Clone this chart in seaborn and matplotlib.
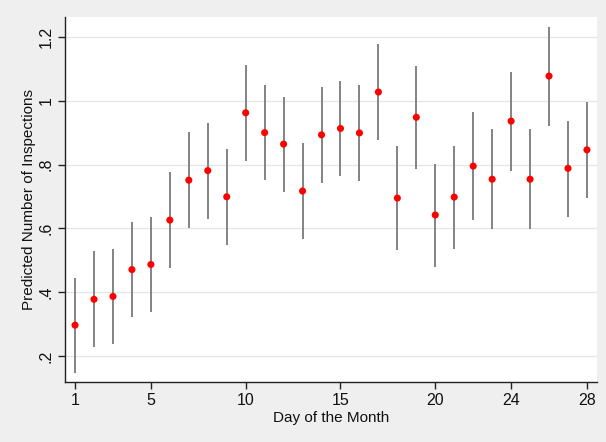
import matplotlib
matplotlib.use("Agg")
import matplotlib.pyplot as plt
import seaborn as sns
import pandas as pd

days = list(range(1, 29))
predicted = [0.297, 0.378, 0.387, 0.471, 0.487, 0.626, 0.751, 0.781, 0.699, 0.962,
             0.900, 0.864, 0.717, 0.893, 0.913, 0.899, 1.027, 0.695, 0.948, 0.642,
             0.698, 0.795, 0.754, 0.936, 0.754, 1.077, 0.788, 0.846]
ci_upper = [0.446, 0.529, 0.536, 0.621, 0.636, 0.776, 0.901, 0.931, 0.848, 1.111,
            1.050, 1.013, 0.866, 1.042, 1.062, 1.049, 1.177, 0.858, 1.109, 0.802,
            0.859, 0.964, 0.910, 1.090, 0.910, 1.231, 0.936, 0.995]
ci_lower = [0.148, 0.229, 0.238, 0.322, 0.338, 0.477, 0.601, 0.631, 0.549, 0.812,
            0.751, 0.714, 0.567, 0.743, 0.763, 0.749, 0.876, 0.533, 0.787, 0.480,
            0.536, 0.626, 0.599, 0.780, 0.599, 0.921, 0.637, 0.696]
x_ticks = [1, 5, 10, 15, 20, 24, 28]
y_ticks = [0.2, 0.4, 0.6, 0.8, 1.0, 1.2]
y_tick_labels = [".2", ".4", ".6", ".8", "1", "1.2"]

df = pd.DataFrame({"day": days, "pred": predicted, "lo": ci_lower, "hi": ci_upper})

sns.set_style("white")
plt.rcParams["font.family"] = ["Liberation Sans", "DejaVu Sans"]

fig = plt.figure(figsize=(6.06, 4.42), dpi=100)
fig.patch.set_facecolor("#efefef")
ax = fig.add_axes([65/606, 1 - 382/442, (597-65)/606, (382-17)/442])
ax.set_facecolor("white")

for y in y_ticks:
    ax.axhline(y, color="#e6e6e6", lw=1.0, zorder=0)

ax.vlines(df["day"], df["lo"], df["hi"], color="#7a7a7a", lw=1.3, zorder=2)
sns.scatterplot(data=df, x="day", y="pred", color="#ff0000", s=26,
                edgecolor="none", zorder=3, ax=ax, legend=False)

ax.set_xlim(0.47, 28.53)
ax.set_ylim(0.119, 1.262)
ax.set_xticks(x_ticks)
ax.set_xticklabels([str(t) for t in x_ticks])
ax.set_yticks(y_ticks)
ax.set_yticklabels(y_tick_labels, rotation=90, va="center")

for side in ["top", "right"]:
    ax.spines[side].set_visible(False)
for side in ["left", "bottom"]:
    ax.spines[side].set_color("#222222")
    ax.spines[side].set_linewidth(1.0)

ax.tick_params(axis="both", direction="out", length=5, width=1, color="#222222",
               labelsize=11.5, labelcolor="#111111", pad=3)
ax.tick_params(axis="x", bottom=True)
ax.tick_params(axis="y", left=True)
ax.set_xlabel("Day of the Month", fontsize=11, color="#111111", labelpad=2)
ax.set_ylabel("Predicted Number of Inspections", fontsize=11, color="#111111", labelpad=2)

fig.savefig("out.png", dpi=100, facecolor=fig.get_facecolor())
